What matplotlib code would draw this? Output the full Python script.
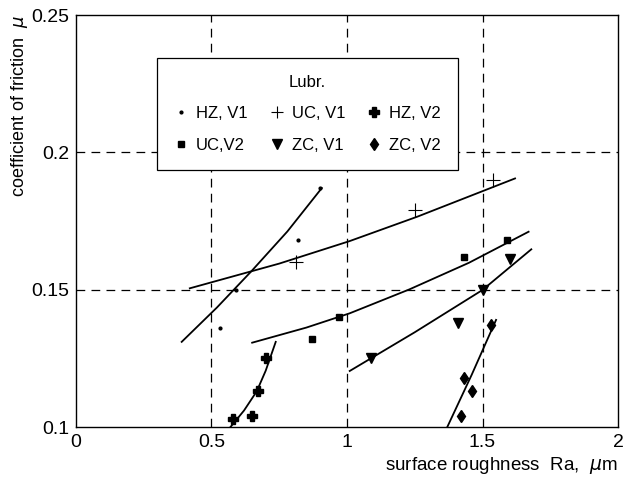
import matplotlib.pyplot as plt
from matplotlib.lines import Line2D

plt.rcParams['font.family'] = ['Liberation Sans', 'DejaVu Sans']
plt.rcParams['mathtext.fontset'] = 'dejavusans'

# measured points
hz_v1_x = [0.53, 0.59, 0.82, 0.90]
hz_v1_y = [0.136, 0.150, 0.168, 0.187]
uc_v1_x = [0.81, 1.25, 1.54]
uc_v1_y = [0.160, 0.179, 0.190]
hz_v2_x = [0.58, 0.65, 0.67, 0.70]
hz_v2_y = [0.103, 0.104, 0.113, 0.125]
uc_v2_x = [0.87, 0.97, 1.43, 1.59]
uc_v2_y = [0.132, 0.140, 0.162, 0.168]
zc_v1_x = [1.09, 1.41, 1.50, 1.60]
zc_v1_y = [0.125, 0.138, 0.150, 0.161]
zc_v2_x = [1.42, 1.43, 1.46, 1.53]
zc_v2_y = [0.104, 0.118, 0.113, 0.137]

# fitted curves
fit_hz_v1_x = [0.39, 0.52, 0.648, 0.78, 0.907]
fit_hz_v1_y = [0.131, 0.1435, 0.1568, 0.1712, 0.187]
fit_uc_v1_x = [0.42, 0.75, 1.01, 1.26, 1.62]
fit_uc_v1_y = [0.1505, 0.1595, 0.1677, 0.1766, 0.1905]
fit_uc_v2_x = [0.65, 0.85, 1.01, 1.23, 1.45, 1.67]
fit_uc_v2_y = [0.1307, 0.1362, 0.1414, 0.1501, 0.1598, 0.1711]
fit_zc_v1_x = [1.01, 1.25, 1.50, 1.68]
fit_zc_v1_y = [0.1204, 0.1345, 0.1499, 0.1647]
fit_zc_v2_x = [1.37, 1.46, 1.55]
fit_zc_v2_y = [0.100, 0.119, 0.139]
fit_hz_v2_x = [0.57, 0.62, 0.667, 0.70, 0.737]
fit_hz_v2_y = [0.100, 0.106, 0.113, 0.1205, 0.131]

fig = plt.figure(figsize=(6.3, 4.8), dpi=100)
ax = fig.add_axes([0.1206, 0.1104, 0.8604, 0.8583])
ax.set_xlim(0, 2)
ax.set_ylim(0.1, 0.25)

# dashed grid
for gx in [0.5, 1, 1.5]:
    ax.axvline(gx, color='black', lw=0.9, ls=(0, (7, 5)), zorder=1)
for gy in [0.15, 0.2]:
    ax.axhline(gy, color='black', lw=0.9, ls=(0, (7, 5)), zorder=1)

# fitted curves
for fx, fy in [(fit_hz_v1_x, fit_hz_v1_y), (fit_uc_v1_x, fit_uc_v1_y),
               (fit_uc_v2_x, fit_uc_v2_y), (fit_zc_v1_x, fit_zc_v1_y),
               (fit_zc_v2_x, fit_zc_v2_y), (fit_hz_v2_x, fit_hz_v2_y)]:
    ax.plot(fx, fy, color='black', lw=1.3, zorder=2)

# data points
ax.plot(hz_v1_x, hz_v1_y, ls='none', marker='.', ms=4, color='black', zorder=3)
ax.plot(uc_v1_x, uc_v1_y, ls='none', marker='+', ms=10, mew=0.8, color='black', zorder=3)
ax.plot(hz_v2_x, hz_v2_y, ls='none', marker='P', ms=6.5, color='black', zorder=3)
ax.plot(uc_v2_x, uc_v2_y, ls='none', marker='s', ms=5, color='black', zorder=3)
ax.plot(zc_v1_x, zc_v1_y, ls='none', marker='v', ms=7, color='black', zorder=3)
ax.plot(zc_v2_x, zc_v2_y, ls='none', marker='d', ms=6, color='black', zorder=3)

ax.set_xticks([0, 0.5, 1, 1.5, 2])
ax.set_xticklabels(['0', '0.5', '1', '1.5', '2'])
ax.set_yticks([0.1, 0.15, 0.2, 0.25])
ax.set_yticklabels(['0.1', '0.15', '0.2', '0.25'])
ax.tick_params(length=0, labelsize=14, pad=5)
for s in ax.spines.values():
    s.set_linewidth(1.0)

ax.set_xlabel('surface roughness  Ra,  $\\mu$m', fontsize=13.5, loc='right', labelpad=3)
ax.set_ylabel('coefficient of friction  $\\mu$', fontsize=13, loc='top', labelpad=1)

# legend laid out row-wise
handles = [
    Line2D([], [], ls='none', marker='.', ms=4, color='black'),
    Line2D([], [], ls='none', marker='s', ms=5, color='black'),
    Line2D([], [], ls='none', marker='+', ms=9, mew=0.8, color='black'),
    Line2D([], [], ls='none', marker='v', ms=7, color='black'),
    Line2D([], [], ls='none', marker='P', ms=6.5, color='black'),
    Line2D([], [], ls='none', marker='d', ms=6, color='black'),
]
labels = ['HZ, V1', 'UC,V2', 'UC, V1', 'ZC, V1', 'HZ, V2', 'ZC, V2']
leg = ax.legend(handles, labels, ncol=3, title='Lubr.', loc='upper left',
                bbox_to_anchor=(0.149, 0.896), borderaxespad=0, fontsize=12,
                title_fontsize=12, fancybox=False, edgecolor='black',
                framealpha=1, handlelength=0.9, handletextpad=0.45,
                columnspacing=1.3, borderpad=1.0, labelspacing=1.0)
leg.get_frame().set_linewidth(0.9)

fig.savefig('out.png', dpi=100)
